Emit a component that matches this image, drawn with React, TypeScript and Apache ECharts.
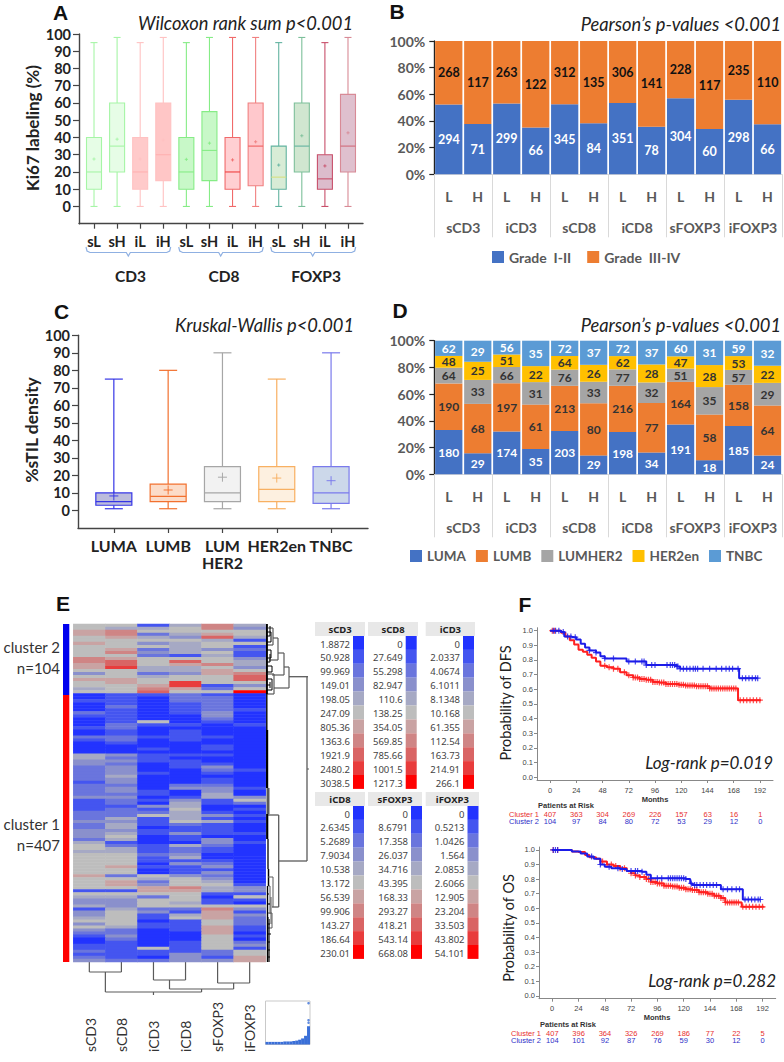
import React, { useEffect, useRef } from "react";
import * as echarts from "echarts";

const SANS = "Lato";
const UI = "Noto Sans";
const ARIAL = "Liberation Sans";

// ---------- Panel A ----------
const aCategories = ["sL", "sH", "iL", "iH", "sL", "sH", "iL", "iH", "sL", "sH", "iL", "iH"];
// min, q1, median, q3, max, mean
const aBoxes = [
  [0, 10, 20, 40, 95, 27.5],
  [0, 20, 35, 60, 98, 39],
  [0, 10, 20, 40, 95, 27.5],
  [0, 15, 30, 60, 98, 38.5],
  [0, 10, 20, 40, 95, 27.3],
  [0, 15, 32.5, 55, 98, 36.7],
  [0, 10, 20, 40, 98, 27],
  [0, 12, 35, 60, 98, 37.5],
  [0, 10, 17, 35, 95, 24],
  [0, 20, 35, 60, 98, 41],
  [0, 10, 16, 30, 95, 23.5],
  [0, 20, 35, 65, 98, 42.7],
];
const aStroke = ["#a6f5a6", "#a6f5a6", "#ffc2c2", "#ffc2c2", "#86ec86", "#86ec86", "#f06a6a", "#f08080", "#62b3a0", "#7cbf9a", "#c84f6a", "#d88a96"];
const aFill = ["#e6fde6", "#e6fde6", "#ffcaca", "#ffc6c6", "#c8f8c8", "#c8f8c8", "#ffcfd2", "#ffc8cc", "#d8ecd6", "#d0e6d0", "#dcbccc", "#dfc0ce"];
const aMedian = ["#a6f5a6", "#a6f5a6", "#ffb0b0", "#ffb0b0", "#86ec86", "#86ec86", "#f04040", "#f06060", "#d6e080", "#62b3a0", "#c84f6a", "#d06a7a"];

// ---------- Panel C ----------
const cCategories = ["LUMA", "LUMB", "LUM\nHER2", "HER2en", "TNBC"];
const cBoxes = [
  [1, 3, 5, 10, 75, 8.3],
  [1, 5, 8, 15, 80, 11.7],
  [1, 5, 10, 25, 90, 19],
  [1, 5, 12, 25, 75, 18.5],
  [1, 4, 10, 25, 90, 17],
];
const cStroke = ["#3636e6", "#f2702e", "#a6a6a6", "#f8b062", "#7a7aec"];
const cFill = ["#bcbcdc", "#fcdcc8", "#f2f2f2", "#fdf0e0", "#ccd8ea"];

// ---------- Panels B, D ----------
const subCats = ["L", "H", "L", "H", "L", "H", "L", "H", "L", "H", "L", "H"];
const groupCats = ["sCD3", "iCD3", "sCD8", "iCD8", "sFOXP3", "iFOXP3"];
const gradeLow = [294, 71, 299, 66, 345, 84, 351, 78, 304, 60, 298, 66];
const gradeHigh = [268, 117, 263, 122, 312, 135, 306, 141, 228, 117, 235, 110];
const luma = [180, 29, 174, 35, 203, 29, 198, 34, 191, 18, 185, 24];
const lumb = [190, 68, 197, 61, 213, 80, 216, 77, 164, 58, 158, 64];
const lumher2 = [64, 33, 66, 31, 76, 33, 77, 32, 51, 35, 57, 29];
const her2en = [48, 25, 51, 22, 64, 26, 62, 28, 47, 28, 53, 22];
const tnbc = [62, 29, 56, 35, 72, 37, 72, 37, 60, 31, 59, 32];

// ---------- Panel E ----------
const heatColumns = ["sCD3", "sCD8", "iCD3", "iCD8", "sFOXP3", "iFOXP3"];
const heatRows = [
  [5,5,1,4,7,4],[5,4,4,5,7,3],[6,7,5,5,5,5],[6,7,2,4,6,5],[5,6,4,3,8,4],[5,5,5,5,4,1],[6,5,3,4,5,5],[5,5,5,4,5,1],
  [5,6,2,4,3,2],[5,7,3,4,5,1],[5,5,2,1,4,1],[7,6,5,5,5,3],[7,8,5,8,5,4],[6,8,5,6,7,4],[6,9,4,4,5,3],[5,5,4,4,6,5],
  [3,5,2,3,6,7],[5,5,4,5,5,8],[6,6,5,5,5,8],[5,6,5,9,5,5],[5,5,6,9,1,3],[4,5,7,6,2,5],[5,5,8,5,5,10],
  [0,1,1,2,1,0],[0,1,0,2,2,0],[1,1,0,2,2,0],[0,1,0,1,2,0],[0,2,0,1,2,0],[0,1,0,1,2,1],[2,1,0,1,3,0],[1,1,0,0,3,0],
  [0,1,0,0,2,0],[0,1,5,0,1,0],[0,2,1,1,0,1],[1,2,0,0,0,0],[0,1,0,1,0,0],[0,1,0,1,0,0],
  [2,2,1,1,1,0],[1,2,0,1,0,0],[0,1,0,0,0,0],[0,0,0,0,1,0],[0,0,1,0,1,0],[0,0,0,0,0,0],[4,3,1,1,1,0],[4,2,1,0,0,0],
  [3,3,1,1,0,0],[3,2,0,1,1,0],[2,3,0,1,3,0],[2,3,0,0,2,1],[2,3,1,0,1,0],[2,4,0,0,0,0],[2,3,0,0,1,0],[1,3,0,0,1,0],
  [2,2,0,2,2,0],[2,3,0,3,3,1],[2,3,1,0,3,0],[2,2,1,0,4,0],[3,3,0,1,4,3],[1,2,1,3,1,5],[1,2,0,4,1,2],[1,1,3,4,0,0],
  [1,2,1,5,0,1],[2,2,2,4,1,0],[2,2,5,4,3,1],[2,4,1,4,1,0],[3,3,1,5,4,1],[2,4,1,2,1,0],[2,4,0,1,1,0],[3,3,1,1,1,0],
  [3,4,1,3,1,1],[3,5,0,1,0,0],[2,4,0,1,3,0],[4,1,0,0,3,1],[5,2,1,4,2,0],[5,4,1,2,1,0],
  [4,4,1,2,1,0],[5,5,2,3,0,0],[5,5,1,4,0,0],[5,5,1,1,1,0],[5,5,0,3,2,0],[5,6,1,1,3,0],[5,5,0,1,1,0],[5,5,0,1,3,0],
  [6,2,5,3,2,0],[5,5,4,5,3,0],[5,6,2,5,4,0],[5,6,3,5,5,1],[5,5,6,7,4,3],[1,1,6,6,4,3],[5,5,5,5,1,1],[4,4,2,5,0,5],
  [3,3,5,5,1,1],[3,3,5,4,1,0],[4,3,5,5,5,5],[1,4,2,2,7,3],[3,5,3,1,6,1],[3,5,1,4,6,3],[4,5,1,5,6,2],[5,5,0,1,5,2],
  [3,5,1,1,5,2],[5,4,1,1,6,1],[3,2,0,1,6,1],[2,2,0,0,6,0],[1,3,0,0,5,1],[0,2,0,0,5,0],[0,1,0,1,5,2],[1,1,0,1,5,3],
  [1,1,5,1,5,1],[2,1,1,1,2,5],[1,1,1,3,2,5],[2,1,0,3,1,6],[3,2,2,3,3,6],
];
const heatPalette = ["#2233ff", "#4455f0", "#6a75dd", "#8a90cc", "#a6a9c4", "#bdbdbd", "#c9a3a3", "#cf8585", "#d96464", "#e83c3c", "#ff0000"];
const scaleSCD3 = ["1.8872", "50.928", "99.969", "149.01", "198.05", "247.09", "805.36", "1363.6", "1921.9", "2480.2", "3038.5"];
const scaleSCD8 = ["0", "27.649", "55.298", "82.947", "110.6", "138.25", "354.05", "569.85", "785.66", "1001.5", "1217.3"];
const scaleICD3 = ["0", "2.0337", "4.0674", "6.1011", "8.1348", "10.168", "61.355", "112.54", "163.73", "214.91", "266.1"];
const scaleICD8 = ["0", "2.6345", "5.2689", "7.9034", "10.538", "13.172", "56.539", "99.906", "143.27", "186.64", "230.01"];
const scaleSFOXP3 = ["0", "8.6791", "17.358", "26.037", "34.716", "43.395", "168.33", "293.27", "418.21", "543.14", "668.08"];
const scaleIFOXP3 = ["0", "0.5213", "1.0426", "1.564", "2.0853", "2.6066", "12.905", "23.204", "33.503", "43.802", "54.101"];
// x0, y0, x1, y1, line weight, shade (0 grey, 1 black)
const rowDendro = [
  [23,52.7,42,52.7,1.3,0],[41,52.7,41,237,1.3,0],[41,237,12.7,237,1.3,0],[12.7,191,12.7,283,1.3,0],[12.7,191,2,191,1.3,0],[12.7,283,6,283,1.3,0],[41,145,43,145,1,0],
  [23,43,23,64,1.2,0],[23,64,8,64,1.2,0],[8,50,8,70,1.2,0],[8,50,2,50,1.2,0],[8,70,1,70,1.2,0],[23,43,18,43,1.2,0],[18,29,18,51,1.2,0],[18,51,6,51,1.2,0],
  [18,29,12,29,1.2,0],[12,14,12,36,1.2,0],[12,36,3,36,1.2,0],[12,14,7,14,1.2,0],[7,4,7,21,1.2,0],[7,4,2,4,1.2,0],[7,21,1,21,1.2,0],
  [5,8,5,18,1,1],[5,8,1,8,1,1],[5,18,1,18,1,1],[5,26,5,34,1,1],[5,26,1,26,1,1],[5,34,1,34,1,1],[6,42,6,48,1,1],[6,42,1,42,1,1],[6,48,1,48,1,1],
  [6,55,6,66,1,1],[6,55,1,55,1,1],[6,66,1,66,1,1],[4,2,4,12,1,1],[4,12,1,12,1,1],[4,30,4,38,1,1],[4,38,1,38,1,1],[4,58,4,64,1,1],[4,61,1,61,1,1],
  [0.7,0,0.7,70,2.4,1],[0.8,70,0.8,106,1.4,1],[1,106,1,164,2.4,1],[2,164,2,190,3,0],[1.2,190,1.2,215,2.2,1],[2,215,2,245,2,0],[2.5,245,2.5,262,1.5,1],
  [4,262,4,290,1,0],[2.5,262,4,262,1,0],[5,273,5,300,1,0],[7,253,7,283,1,0],[7,253,2,253,1,0],[6,289,6,304,1,0],[6,289,2,289,1,0],[6,304,2,304,1,0],
  [1.5,262,1.5,338,1.4,1],[3,295,3,338,1.2,1],[2,300,4,300,1,1],[2,310,5,310,1,1],[2,318,4,318,1,1],[2,326,4,326,1,1],[2,333,4,333,1,1],[1,270,3,270,1.2,1],[1,280,4,280,1.2,1],[1,294,3,294,1.2,1],
];
const colDendro = [
  [0.5,0,0.5,10],[1.5,0,1.5,10],[0.5,10,1.5,10],
  [2.5,0,2.5,18],[3.5,0,3.5,18],[2.5,18,3.5,18],
  [4.5,0,4.5,21],[5.5,0,5.5,21],[4.5,21,5.5,21],
  [3,18,3,27],[5,21,5,27],[3,27,5,27],
  [1,10,1,30],[4,27,4,30],[1,30,4,30],[2.5,30,2.5,33],
];
const histBins = [6, 6, 6, 6, 6, 6, 7, 7, 7, 8, 9, 11, 14, 20, 42];
const histDots = [[14, 95], [14, 56], [14, 50]];

// ---------- Panel F ----------
const dfsCluster1 = [[0,1],[6,1],[10,0.985],[14,0.96],[18,0.935],[22,0.905],[26,0.87],[30,0.855],[34,0.835],[38,0.815],[42,0.79],[46,0.76],[52,0.75],[58,0.74],[64,0.715],[70,0.695],[76,0.68],[82,0.67],[88,0.665],[94,0.65],[100,0.645],[106,0.635],[118,0.63],[124,0.625],[134,0.62],[146,0.605],[172,0.525],[193,0.525]];
const dfsCluster2 = [[0,1],[8,1],[10,0.99],[13,0.96],[20,0.955],[24,0.94],[28,0.91],[32,0.885],[36,0.865],[42,0.85],[46,0.825],[50,0.81],[66,0.81],[70,0.79],[86,0.79],[88,0.765],[112,0.765],[116,0.755],[119,0.74],[173,0.675],[190,0.675]];
const osCluster1 = [[0,1],[15,1],[18,0.99],[24,0.985],[30,0.965],[34,0.95],[40,0.94],[44,0.92],[50,0.9],[56,0.89],[62,0.875],[68,0.855],[72,0.84],[76,0.825],[80,0.815],[86,0.8],[90,0.78],[96,0.77],[102,0.755],[110,0.75],[116,0.74],[122,0.73],[128,0.725],[134,0.71],[142,0.7],[148,0.685],[154,0.67],[158,0.64],[173,0.61],[193,0.605]];
const osCluster2 = [[0,1],[14,1],[18,0.99],[26,0.975],[32,0.955],[38,0.94],[44,0.9],[48,0.885],[54,0.875],[62,0.87],[68,0.855],[82,0.85],[86,0.83],[90,0.805],[122,0.8],[126,0.77],[128,0.76],[154,0.73],[174,0.66],[190,0.66]];
const dfsCens1 = [2,4,50,54,58,62,68,72,76,78,80,82,84,86,88,90,92,94,96,98,100,102,104,106,108,110,112,114,116,118,120,122,124,126,128,130,132,134,136,138,140,142,144,146,148,150,152,154,156,158,160,162,164,166,168,170,174,177,180,183,186,189,192];
const dfsCens2 = [3,5,8,12,16,19,23,36,42,50,58,72,78,84,86,88,93,96,107,110,112,114,116,117,119,122,125,128,131,133,135,140,146,152,157,161,164,167,172,176,179,182,185,188,190];
const osCens1 = [1,5,46,50,54,58,62,66,72,76,80,84,86,88,90,92,94,96,98,100,102,104,106,108,110,112,114,116,118,120,122,124,126,128,130,132,134,136,138,140,142,144,146,148,150,152,154,156,158,160,162,164,166,168,170,174,177,180,183,186,189,192];
const osCens2 = [1,3,5,36,44,52,60,64,72,76,78,82,90,96,100,106,108,110,112,114,116,118,120,122,127,130,132,135,138,141,144,147,150,156,160,164,168,171,176,179,182,185,188,190];
const monthTicks = [0, 24, 48, 72, 96, 120, 144, 168, 192];
const riskDfs1 = ["407", "363", "304", "269", "226", "157", "63", "16", "1"];
const riskDfs2 = ["104", "97", "84", "80", "72", "53", "29", "12", "0"];
const riskOs1 = ["407", "396", "364", "326", "269", "186", "77", "22", "5"];
const riskOs2 = ["104", "101", "92", "87", "76", "59", "30", "12", "0"];

const DARK = "#222222";
const GREYTXT = "#595959";
const RED = "#ff2020";
const BLUE = "#1c1ce8";
const PLUS = "path://M4 0h2v4h4v2H6v4H4V6H0V4h4z";

function txt(x: number, y: number, text: string, size: number, o: any = {}) {
  const { rotation, ...style } = o;
  return {
    type: "text", x, y, silent: true, rotation: rotation || 0,
    style: { text, fontSize: size, fontFamily: SANS, fill: DARK, align: "center", verticalAlign: "middle", ...style },
  };
}
function rect(x: number, y: number, w: number, h: number, fill: string) {
  return { type: "rect", silent: true, shape: { x, y, width: w, height: h }, style: { fill } };
}
function brace(x0: number, x1: number, xm: number) {
  return {
    type: "polyline", silent: true,
    shape: { points: [[x0, 247], [x0 + 1, 251], [x0 + 4, 252.5], [xm - 2, 252.5], [xm, 256], [xm + 2, 252.5], [x1 - 4, 252.5], [x1 - 1, 251], [x1, 247]] },
    style: { stroke: "#8fb0e2", lineWidth: 1.2, fill: "none" },
  };
}
function boxSeries(name: string, boxes: number[][], axis: number, stroke: string[], fill: string[], median: string[], boxW: number, capW: number, plus: number, lw: number) {
  return {
    name, type: "custom", xAxisIndex: axis, yAxisIndex: axis === 0 ? 0 : 2, clip: false,
    encode: { x: 0, y: [1, 2, 3, 4, 5] },
    data: boxes.map((b, i) => [i, ...b]),
    renderItem: (_: any, api: any) => {
      const i = api.value(0);
      const P = (v: number, dx = 0) => { const c = api.coord([i, v]); return [c[0] + dx, c[1]]; };
      const ln = (a: number[], b: number[], col: string, w = lw) => ({
        type: "line", shape: { x1: a[0], y1: a[1], x2: b[0], y2: b[1] }, style: { stroke: col, lineWidth: w },
      });
      const mn = api.value(1), q1 = api.value(2), md = api.value(3), q3 = api.value(4), mx = api.value(5), me = api.value(6);
      const s = stroke[i];
      const topLeft = P(q3, -boxW / 2), botLeft = P(q1, -boxW / 2);
      const m = P(me);
      return {
        type: "group",
        children: [
          ln(P(mn), P(q1), s), ln(P(q3), P(mx), s),
          ln(P(mn, -capW / 2), P(mn, capW / 2), s), ln(P(mx, -capW / 2), P(mx, capW / 2), s),
          { type: "rect", shape: { x: topLeft[0], y: topLeft[1], width: boxW, height: botLeft[1] - topLeft[1] }, style: { fill: fill[i], stroke: s, lineWidth: lw } },
          ln(P(md, -boxW / 2), P(md, boxW / 2), median[i]),
          ln([m[0] - plus, m[1]], [m[0] + plus, m[1]], s, lw * 0.8), ln([m[0], m[1] - plus], [m[0], m[1] + plus], s, lw * 0.8),
        ],
      };
    },
  };
}
function segSeries(name: string, segs: number[][], xi: number, yi: number) {
  return {
    name, type: "custom", xAxisIndex: xi, yAxisIndex: yi, clip: false, encode: { x: [0, 2], y: [1, 3] }, data: segs,
    renderItem: (_: any, api: any) => {
      const a = api.coord([api.value(0), api.value(1)]);
      const b = api.coord([api.value(2), api.value(3)]);
      const w = api.value(4) || 1.2;
      return { type: "line", shape: { x1: a[0], y1: a[1], x2: b[0], y2: b[1] }, style: { stroke: api.value(5) === 1 ? "#000000" : "#5a5a5a", lineWidth: w } };
    },
  };
}
function survivalAt(curve: number[][], t: number) {
  let v = curve[0][1];
  for (const p of curve) if (p[0] <= t) v = p[1];
  return v;
}
function kmSeries(name: string, curve: number[][], cens: number[], axis: number, color: string) {
  return [
    { name, type: "line", step: "end", xAxisIndex: axis, yAxisIndex: axis - 2, data: curve, showSymbol: false, symbol: "none", lineStyle: { color, width: 2 }, z: color === RED ? 3 : 4 },
    { name: name + " censored", type: "scatter", xAxisIndex: axis, yAxisIndex: axis - 2, data: cens.map((t) => [t, survivalAt(curve, t)]), symbol: PLUS, symbolSize: 6, itemStyle: { color }, z: color === RED ? 3 : 4 },
  ];
}
function stackSeries(name: string, values: number[], totals: number[], color: string, labelColor: string, axis: number) {
  return {
    name, type: "bar", stack: "s" + axis, xAxisIndex: axis, yAxisIndex: axis === 1 ? 1 : 3, barWidth: "94%",
    itemStyle: { color },
    data: values.map((v, i) => ({ value: (100 * v) / totals[i], count: v })),
    label: { show: true, position: "inside", color: labelColor, fontFamily: SANS, fontWeight: "bold", fontSize: axis === 1 ? 12.5 : 12, lineHeight: 10, padding: 0, formatter: (p: any) => String(p.data.count) },
  };
}
function sumAt(arrs: number[][]) {
  return arrs[0].map((_, i) => arrs.reduce((t, a) => t + a[i], 0));
}
const pctYAxis = (gridIndex: number) => ({
  type: "value", gridIndex, min: 0, max: 100, interval: 20,
  axisLine: { show: true, lineStyle: { color: "#222", width: 1.4 } },
  axisTick: { show: true, length: 5, lineStyle: { color: "#222", width: 1.2 } },
  splitLine: { show: false },
  axisLabel: { formatter: "{value}%", color: GREYTXT, fontFamily: SANS, fontWeight: "bold", fontSize: 14, margin: 9 },
});
const subAxis = (gridIndex: number) => ({
  type: "category", gridIndex, position: "bottom", data: subCats,
  axisLine: { show: false }, axisTick: { show: false },
  axisLabel: { color: GREYTXT, fontFamily: SANS, fontWeight: "bold", fontSize: 14, margin: 15, interval: 0 },
});
const groupAxis = (gridIndex: number) => ({
  type: "category", gridIndex, position: "bottom", data: groupCats,
  axisLine: { show: true, lineStyle: { color: "#d9d9d9" } },
  axisTick: { show: true, length: 63, alignWithLabel: false, lineStyle: { color: "#d9d9d9" } },
  axisLabel: { color: GREYTXT, fontFamily: SANS, fontWeight: "bold", fontSize: 14, margin: 46, interval: 0 },
});
const boxYAxis = (gridIndex: number) => ({
  type: "value", gridIndex, min: -10, max: 100,
  axisLine: { show: true, onZero: false, lineStyle: { color: "#444", width: 1.4 } },
  axisTick: { show: true, length: 6, lineStyle: { color: "#444", width: 1.2 }, customValues: [0, 10, 20, 30, 40, 50, 60, 70, 80, 90, 100] },
  splitLine: { show: false },
  axisLabel: { color: DARK, fontFamily: SANS, fontWeight: "bold", fontSize: 14.5, margin: 8, customValues: [0, 10, 20, 30, 40, 50, 60, 70, 80, 90, 100] },
});
const boxXAxis = (gridIndex: number, cats: string[], min: number, max: number, size: number, margin: number) => {
  const idx = cats.map((_, i) => i);
  return {
    type: "value", gridIndex, min, max,
    axisLine: { show: true, onZero: false, lineStyle: { color: "#444", width: 1.4 } },
    axisTick: { show: true, length: 5, lineStyle: { color: "#444", width: 1.2 }, customValues: idx },
    splitLine: { show: false },
    axisLabel: { color: DARK, fontFamily: SANS, fontWeight: "bold", fontSize: size, margin, lineHeight: 17, customValues: idx, formatter: (v: number) => cats[Math.round(v)] },
  };
};
const kmXAxis = (gridIndex: number) => ({
  type: "value", gridIndex, min: -12, max: 204,
  axisLine: { show: true, onZero: false, lineStyle: { color: "#888" } },
  axisTick: { show: true, length: 3, lineStyle: { color: "#888" }, customValues: monthTicks },
  splitLine: { show: false },
  axisLabel: { color: "#444", fontFamily: ARIAL, fontSize: 7.5, margin: 6, customValues: monthTicks },
});
const kmYAxis = (gridIndex: number) => ({
  type: "value", gridIndex, min: -0.02, max: 1.02,
  axisLine: { show: true, onZero: false, lineStyle: { color: "#888" } },
  axisTick: { show: true, length: 3, lineStyle: { color: "#888" }, customValues: [0, 0.1, 0.2, 0.3, 0.4, 0.5, 0.6, 0.7, 0.8, 0.9, 1] },
  splitLine: { show: false },
  axisLabel: { color: "#444", fontFamily: ARIAL, fontSize: 7.5, margin: 4, customValues: [0, 0.1, 0.2, 0.3, 0.4, 0.5, 0.6, 0.7, 0.8, 0.9, 1], formatter: (v: number) => v.toFixed(1) },
});
const hiddenAxis = (gridIndex: number, min: number, max: number, inverse = false) => ({
  type: "value", gridIndex, min, max, inverse, show: false, splitLine: { show: false },
});

function scaleTable(title: string, values: string[], hx0: number, hx1: number, hy: number, valueRight: number, cellX: number) {
  const items: any[] = [rect(hx0, hy, hx1 - hx0, 14, "#e8e8e8"), txt((hx0 + hx1) / 2, hy + 7.5, title, 9.5, { fontFamily: UI, fontWeight: "bold", fill: "#222" })];
  values.forEach((v, i) => {
    items.push(rect(cellX, hy + 14 + i * 13.9, 11, 13.9, heatPalette[i]));
    items.push(txt(valueRight, hy + 22 + i * 13.9, v, 9.5, { fontFamily: UI, fill: "#444", align: "right" }));
  });
  return items;
}
function riskTable(x0: number, yHead: number, xLab: number, y1: number, y2: number, xZero: number, pxPerTick: number, a: string[], b: string[]) {
  const items: any[] = [
    txt(xLab + 29, yHead, "Patients at Risk", 7.5, { fontFamily: ARIAL, fontWeight: "bold", align: "left", fill: "#333" }),
    txt(x0, y1, "Cluster 1", 7.5, { fontFamily: ARIAL, align: "left", fill: "#e83030" }),
    txt(x0, y2, "Cluster 2", 7.5, { fontFamily: ARIAL, align: "left", fill: "#3030c8" }),
  ];
  a.forEach((v, i) => items.push(txt(xZero + i * pxPerTick, y1, v, 7.5, { fontFamily: ARIAL, fill: "#e83030" })));
  b.forEach((v, i) => items.push(txt(xZero + i * pxPerTick, y2, v, 7.5, { fontFamily: ARIAL, fill: "#3030c8" })));
  return items;
}

function buildOption(): any {
  const bTotals = sumAt([gradeLow, gradeHigh]);
  const dTotals = sumAt([luma, lumb, lumher2, her2en, tnbc]);
  const heatData: number[][] = [];
  heatRows.forEach((r, y) => r.forEach((v, x) => heatData.push([x, y, v])));

  const letter = (x: number, y: number, t: string) => txt(x, y, t, 21, { fontFamily: ARIAL, fontWeight: "bold", fill: "#111" });
  const title = (x: number, y: number, t: string, size = 18.3) => txt(x, y, t, size, { fontStyle: "italic", align: "right", fill: "#222" });

  const graphics: any[] = [
    letter(60.5, 12, "A"), letter(397, 11, "B"), letter(61.5, 311, "C"), letter(400, 310, "D"), letter(63, 603, "E"), letter(525, 604, "F"),
    title(353, 23, "Wilcoxon rank sum p<0.001"), title(781, 23.5, "Pearson\u2019s p-values <0.001"),
    title(354, 324.5, "Kruskal-Wallis p<0.001"), title(781, 324.5, "Pearson\u2019s p-values <0.001"),
    txt(32, 128, "Ki67 labeling (%)", 17, { fontWeight: "bold", rotation: Math.PI / 2 }),
    txt(31, 430, "%sTIL density", 17.5, { fontWeight: "bold", rotation: Math.PI / 2 }),
    brace(86, 170.7, 128.3), brace(178.7, 263.3, 220.7), brace(270.7, 355.7, 312.7),
    txt(130.5, 275.5, "CD3", 15.5, { fontWeight: "bold" }), txt(224, 275.5, "CD8", 15.5, { fontWeight: "bold" }), txt(316, 275.5, "FOXP3", 15.5, { fontWeight: "bold" }),
    rect(63, 624, 6.3, 71, "#0000ee"), rect(63, 695, 6.3, 267, "#ff0000"),
    txt(60, 647, "cluster 2", 15, { align: "right", fill: "#333" }), txt(60, 668, "n=104", 15, { align: "right", fill: "#333" }),
    txt(60, 824, "cluster 1", 15, { align: "right", fill: "#333" }), txt(60, 845, "n=407", 15, { align: "right", fill: "#333" }),
    ...heatColumns.map((c, i) => txt(90 + i * 31.86, 1052, c, 14, { align: "left", rotation: Math.PI / 2, fill: "#333" })),
    ...scaleTable("sCD3", scaleSCD3, 315, 365, 622, 350, 353),
    ...scaleTable("sCD8", scaleSCD8, 368, 418, 622, 402.7, 405.7),
    ...scaleTable("iCD3", scaleICD3, 425.7, 475, 622, 460, 463),
    ...scaleTable("iCD8", scaleICD8, 315, 365, 792, 350, 353),
    ...scaleTable("sFOXP3", scaleSFOXP3, 368, 422, 792, 408, 411),
    ...scaleTable("iFOXP3", scaleIFOXP3, 425.7, 479, 792, 464.5, 467.5),
    txt(505, 703, "Probability of DFS", 14.5, { rotation: Math.PI / 2, fill: "#222" }),
    txt(508, 928, "Probability of OS", 14.5, { rotation: Math.PI / 2, fill: "#222" }),
    title(773, 762.5, "Log-rank p=0.019", 17), title(776, 980, "Log-rank p=0.282", 17),
    txt(655, 799, "Months", 7.5, { fontFamily: ARIAL, fontWeight: "bold", fill: "#333" }),
    txt(657, 1017.5, "Months", 7.5, { fontFamily: ARIAL, fontWeight: "bold", fill: "#333" }),
    ...riskTable(509, 805.7, 509, 814, 821, 550, 26.29, riskDfs1, riskDfs2),
    ...riskTable(511, 1024, 511, 1033.3, 1040.7, 552.3, 26.29, riskOs1, riskOs2),
  ];

  return {
    animation: false,
    backgroundColor: "#ffffff",
    grid: [
      { left: 79, top: 34, width: 284, height: 189.7 },
      { left: 434.3, top: 41, width: 347.7, height: 133.3 },
      { left: 78, top: 335.3, width: 290, height: 192.7 },
      { left: 434.3, top: 340.7, width: 347.7, height: 133.6 },
      { left: 73.3, top: 624, width: 192.4, height: 338 },
      { left: 266, top: 624, width: 43, height: 338 },
      { left: 73.3, top: 962, width: 192.4, height: 33 },
      { left: 265.5, top: 1001, width: 44.5, height: 43.5, show: true, borderColor: "#c9c9c9", borderWidth: 1, backgroundColor: "#fff" },
      { left: 537, top: 627.7, width: 236, height: 152.3 },
      { left: 539, top: 847, width: 236.7, height: 151.7 },
    ],
    xAxis: [
      boxXAxis(0, aCategories, -0.65, 11.65, 14.5, 9),
      subAxis(1), groupAxis(1),
      boxXAxis(2, cCategories, -0.66, 4.68, 16, 9),
      subAxis(3), groupAxis(3),
      { type: "category", gridIndex: 4, data: heatColumns, show: false },
      hiddenAxis(5, 0, 43),
      hiddenAxis(6, 0, 6),
      { type: "category", gridIndex: 7, data: histBins.map((_, i) => String(i)), show: false },
      kmXAxis(8), kmXAxis(9),
    ],
    yAxis: [
      boxYAxis(0), pctYAxis(1), boxYAxis(2), pctYAxis(3),
      { type: "category", gridIndex: 4, data: heatRows.map((_, i) => String(i)), inverse: true, show: false },
      hiddenAxis(5, 0, 338, true),
      hiddenAxis(6, 0, 33, true),
      { type: "value", gridIndex: 7, min: 0, max: 100, show: false, splitLine: { show: false } },
      kmYAxis(8), kmYAxis(9),
    ],
    legend: [
      {
        left: 487, top: 245, itemWidth: 12, itemHeight: 12, itemGap: 16, icon: "rect", data: ["Grade  I-II", "Grade  III-IV"],
        textStyle: { color: GREYTXT, fontFamily: SANS, fontWeight: "bold", fontSize: 14 },
      },
      {
        left: 405, top: 544, width: 378, itemWidth: 12, itemHeight: 12, itemGap: 10, icon: "rect", data: ["LUMA", "LUMB", "LUMHER2", "HER2en", "TNBC"],
        textStyle: { color: GREYTXT, fontFamily: SANS, fontWeight: "bold", fontSize: 13.5 },
      },
    ],
    visualMap: {
      show: false, type: "continuous", min: 0, max: 10, dimension: 2, seriesIndex: 13,
      inRange: { color: heatPalette },
    },
    series: [
      boxSeries("Ki67 labeling", aBoxes, 0, aStroke, aFill, aMedian, 15, 7, 1.6, 1.1),
      stackSeries("Grade  I-II", gradeLow, bTotals, "#4472C4", "#ffffff", 1),
      stackSeries("Grade  III-IV", gradeHigh, bTotals, "#ED7D31", "#111111", 1),
      boxSeries("sTIL density", cBoxes, 3, cStroke, cFill, cStroke, 36, 18, 4.5, 1.2),
      stackSeries("LUMA", luma, dTotals, "#4472C4", "#ffffff", 4),
      stackSeries("LUMB", lumb, dTotals, "#ED7D31", "#333333", 4),
      stackSeries("LUMHER2", lumher2, dTotals, "#A5A5A5", "#333333", 4),
      stackSeries("HER2en", her2en, dTotals, "#FFC000", "#333333", 4),
      stackSeries("TNBC", tnbc, dTotals, "#5B9BD5", "#ffffff", 4),
      segSeries("Row dendrogram", rowDendro, 7, 5),
      segSeries("Column dendrogram", colDendro, 8, 6),
      { name: "Value histogram", type: "bar", xAxisIndex: 9, yAxisIndex: 7, barWidth: "100%", data: histBins, itemStyle: { color: "#3a6fd8" } },
      { name: "Histogram tail", type: "scatter", xAxisIndex: 9, yAxisIndex: 7, data: histDots, symbolSize: 2.5, itemStyle: { color: "#3a6fd8" } },
      { name: "TIL heatmap", type: "heatmap", xAxisIndex: 6, yAxisIndex: 4, data: heatData, itemStyle: { borderWidth: 0 }, emphasis: { disabled: true } },
      ...kmSeries("DFS cluster 1", dfsCluster1, dfsCens1, 10, RED),
      ...kmSeries("DFS cluster 2", dfsCluster2, dfsCens2, 10, BLUE),
      ...kmSeries("OS cluster 1", osCluster1, osCens1, 11, RED),
      ...kmSeries("OS cluster 2", osCluster2, osCens2, 11, BLUE),
    ],
    graphic: { elements: graphics },
  };
}

export default function App() {
  const ref = useRef<HTMLDivElement>(null);
  useEffect(() => {
    const chart = echarts.init(ref.current as HTMLDivElement, undefined, { renderer: "svg" });
    chart.setOption(buildOption());
    return () => chart.dispose();
  }, []);
  return <div ref={ref} style={{ position: "absolute", left: 0, top: 0, width: 784, height: 1062 }} />;
}
